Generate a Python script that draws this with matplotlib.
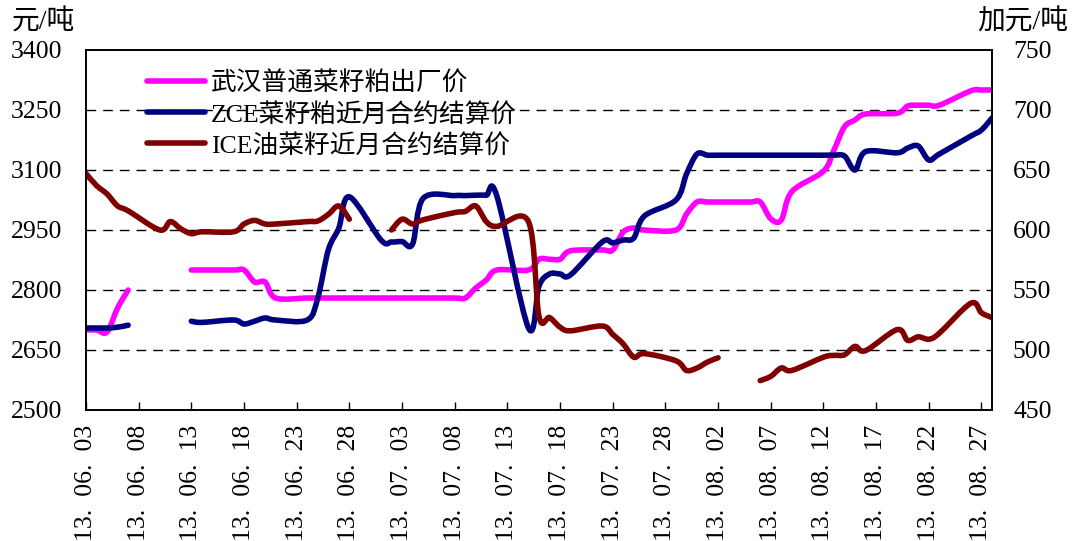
import numpy as np
import pandas as pd
import matplotlib
matplotlib.use("Agg")
import matplotlib.pyplot as plt
import matplotlib.dates as mdates
from matplotlib.path import Path
from matplotlib.patches import PathPatch
from matplotlib.lines import Line2D

plt.rcParams['font.family'] = ['Liberation Serif', 'Noto Sans CJK SC', 'DejaVu Sans']

# trading days (2013)
dates = [
    "06-03", "06-04", "06-05", "06-06", "06-07", "06-10", "06-11", "06-12", "06-13", "06-14",
    "06-17", "06-18", "06-19", "06-20", "06-21", "06-24", "06-25", "06-26", "06-27", "06-28",
    "07-01", "07-02", "07-03", "07-04", "07-05", "07-08", "07-09", "07-10", "07-11", "07-12",
    "07-15", "07-16", "07-17", "07-18", "07-19", "07-22", "07-23", "07-24", "07-25", "07-26",
    "07-29", "07-30", "07-31", "08-01", "08-02", "08-05", "08-06", "08-07", "08-08", "08-09",
    "08-12", "08-13", "08-14", "08-15", "08-16", "08-19", "08-20", "08-21", "08-22", "08-23",
    "08-26", "08-27", "08-28",
]

# 武汉普通菜籽粕出厂价 (元/吨)
wuhan_meal = [
    2700, 2700, 2695, 2755, 2800, None, None, None, 2850, 2850,
    2850, 2850, 2820, 2820, 2780, 2780, 2780, 2780, 2780, 2780,
    2780, 2780, 2780, 2780, 2780, 2780, 2780, 2805, 2825, 2850,
    2850, 2877, 2877, 2877, 2898, 2900, 2900, 2945, 2955, 2950,
    2950, 2990, 3020, 3020, 3020, 3020, 3020, 2978, 2975, 3046,
    3097, 3150, 3208, 3225, 3240, 3242, 3260, 3262, 3262, 3262,
    3298, 3300, 3300,
]

# ZCE菜籽粕近月合约结算价 (元/吨)
zce_meal = [
    2705, 2705, 2705, 2707, 2712, None, None, None, 2722, 2719,
    2725, 2715, 2722, 2730, 2725, 2725, 2780, 2900, 2955, 3033,
    2925, 2920, 2921, 2915, 3029, 3036, 3036, 3037, 3037, 3035,
    2705, 2810, 2840, 2840, 2838, 2920, 2918, 2925, 2930, 2985,
    3025, 3090, 3140, 3137, 3137, 3137, 3137, 3137, 3137, 3137,
    3137, 3137, 3135, 3100, 3146, 3143, 3155, 3160, 3125, 3140,
    3185, 3200, 3230,
]

# ICE油菜籽近月合约结算价 (加元/吨)
ice_canola = [
    647, 637, 630, 620, 616, 600, 607, 601, 597, 598.5,
    598.5, 605, 608, 605, 605, 607, 607.5, 613, 620, 609,
    None, 600, 609, 605, 608.5, 614.5, 615.5, 620, 607, 603,
    607, 528, 527, 519, 516, 520, 513, 505, 494, 497,
    491, 483, 485, 490, 493.5, None, 474.5, 478, 485, 483,
    494, 495.5, 496, 503, 499.5, 517, 508, 511, 509, 514,
    539, 531, 527,
]

series_labels = ["武汉普通菜籽粕出厂价", "ZCE菜籽粕近月合约结算价", "ICE油菜籽近月合约结算价"]
series_colors = ["#FF00FF", "#000080", "#800000"]
left_ticks = [2500, 2650, 2800, 2950, 3100, 3250, 3400]
right_ticks = [450, 500, 550, 600, 650, 700, 750]


def as_array(values):
    return np.array([np.nan if v is None else v for v in values], dtype=float)


def smooth_line(axis, xs, ys, color, lw):
    """Draw a smoothed (cubic Bezier) line through the points, broken at missing values."""
    valid = ~np.isnan(ys)
    idx = np.arange(len(ys))
    # split into runs of consecutive valid points
    runs, cur = [], []
    for i in idx:
        if valid[i]:
            cur.append(i)
        elif cur:
            runs.append(cur)
            cur = []
    if cur:
        runs.append(cur)
    for run in runs:
        P = np.column_stack([xs[run], ys[run]])
        n = len(P)
        if n < 2:
            continue
        verts = [P[0]]
        codes = [Path.MOVETO]
        for i in range(n - 1):
            p0 = P[i - 1] if i > 0 else P[i]
            p1, p2 = P[i], P[i + 1]
            p3 = P[i + 2] if i + 2 < n else P[i + 1]
            c1 = p1 + (p2 - p0) / 6.0
            c2 = p2 - (p3 - p1) / 6.0
            verts += [c1, c2, p2]
            codes += [Path.CURVE4] * 3
        patch = PathPatch(Path(verts, codes), fill=False, edgecolor=color, lw=lw,
                          capstyle="round", joinstyle="round")
        axis.add_patch(patch)


xnum = mdates.date2num(pd.to_datetime(["2013-" + d for d in dates]))

W, H = 1072, 541
PX = 72 / 100  # points per pixel at 100 dpi
fig = plt.figure(figsize=(W / 100, H / 100), dpi=100)
ax = fig.add_axes([86 / W, 1 - 410 / H, (992 - 86) / W, (410 - 50) / H])
ax2 = ax.twinx()

lw = 4.0
smooth_line(ax, xnum, as_array(wuhan_meal), series_colors[0], lw)
smooth_line(ax, xnum, as_array(zce_meal), series_colors[1], lw)
smooth_line(ax2, xnum, as_array(ice_canola), series_colors[2], lw)

ax.set_ylim(2500, 3400)
ax2.set_ylim(450, 750)
ax.set_yticks(left_ticks)
ax2.set_yticks(right_ticks)
ax.set_xlim(mdates.date2num(pd.Timestamp("2013-06-03")), mdates.date2num(pd.Timestamp("2013-08-28")))

# dashed horizontal grid on the left-axis values
for v in left_ticks[1:-1]:
    ax.axhline(v, color="black", lw=1.0, ls=(0, (7, 5)), zorder=0.5)

tick_dates = pd.date_range("2013-06-03", "2013-08-28", freq="5D")
ax.set_xticks(mdates.date2num(tick_dates))
ax.set_xticklabels([d.strftime("%y.  %m.  %d") for d in tick_dates],
                   rotation=90, fontsize=18.5)
ax.tick_params(axis="x", direction="in", length=6, width=1, pad=15 * PX)
ax.tick_params(axis="y", length=0, pad=24 * PX, labelsize=18.5)
ax2.tick_params(axis="y", length=0, pad=21 * PX, labelsize=18.5)
for lab in ax.get_xticklabels():
    lab.set_verticalalignment("top")

for a in (ax, ax2):
    for s in a.spines.values():
        s.set_linewidth(1.2)
        s.set_color("black")

fig.text(12 / W, 1 - 22 / H, "元/吨", fontsize=20, ha="left", va="center")
fig.text(1068 / W, 1 - 22 / H, "加元/吨", fontsize=20, ha="right", va="center")

handles = [Line2D([], [], color=c, lw=lw, solid_capstyle="round") for c in series_colors]
leg = ax.legend(handles=handles, labels=series_labels, loc="upper left",
                bbox_to_anchor=(147 / W, 1 - 71 / H), bbox_transform=fig.transFigure,
                frameon=False, fontsize=18.5, handlelength=2.25, handletextpad=0.25,
                labelspacing=0.28, borderpad=0, borderaxespad=0)
leg.set_zorder(10)

fig.savefig("out.png", dpi=100)
